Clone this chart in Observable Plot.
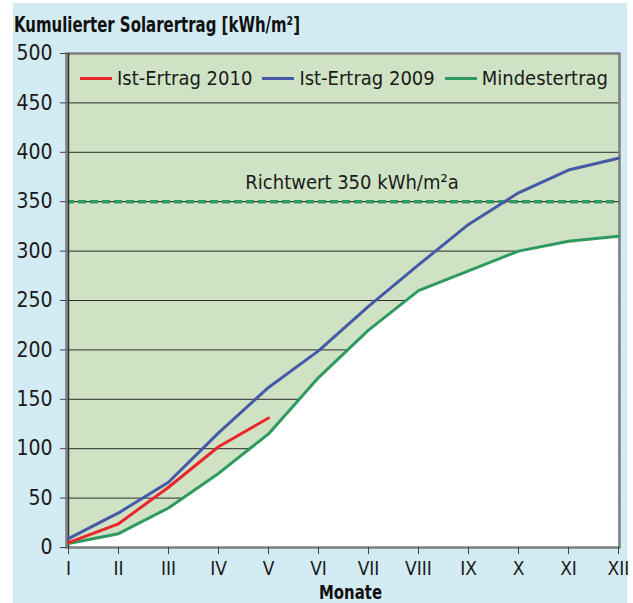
<!DOCTYPE html>
<html><head><meta charset="utf-8">
<script src="https://cdn.jsdelivr.net/npm/d3@7"></script>
<script src="https://cdn.jsdelivr.net/npm/@observablehq/plot@0.6"></script>
<style>
html,body{margin:0;padding:0;}
body{background:#fff;width:633px;height:603px;overflow:hidden;position:relative;
  font-family:"DejaVu Sans Condensed","DejaVu Sans",sans-serif;font-stretch:condensed;color:#1a1a1a;}
#bg{position:absolute;left:13px;top:3px;width:614px;height:600px;background:#d3ebf2;}
#chart{position:absolute;left:0;top:0;}
#chart svg text{font-stretch:condensed;}
.squeeze{position:absolute;white-space:nowrap;font-weight:bold;line-height:1;transform-origin:left top;color:#111;}
#title{left:14px;top:15px;font-size:21px;}
#xlabel{top:583px;font-size:19px;}
#legend{position:absolute;left:80px;top:66px;display:flex;align-items:center;font-size:20px;line-height:24px;white-space:nowrap;}
#legend .item{display:flex;align-items:center;margin-right:10px;}
#legend .sw{width:32px;height:3px;margin-right:5px;}
</style>
</head><body>
<div id="bg"></div>
<div id="chart"></div>
<div id="title" class="squeeze">Kumulierter Solarertrag [kWh/m²]</div>
<div id="xlabel" class="squeeze">Monate</div>
<div id="legend"></div>
<script>
const months = ["I","II","III","IV","V","VI","VII","VIII","IX","X","XI","XII"];
const ist2010 = [5, 24, 61, 102, 131];
const ist2009 = [9, 35, 66, 116, 162, 199, 244, 286, 327, 359, 382, 394];
const mindest = [4, 14, 40, 75, 115, 172, 220, 260, 280, 300, 310, 315];
const yTicks = [0, 50, 100, 150, 200, 250, 300, 350, 400, 450, 500];
const richtwert = 350;
const richtwertLabel = "Richtwert 350 kWh/m²a";
const seriesNames = ["Ist-Ertrag 2010", "Ist-Ertrag 2009", "Mindestertrag"];
const colors = ["#e8262b", "#4659a6", "#2f9a60"];

const toRows = (vals) => vals.map((v, i) => ({month: months[i], value: v}));
const d2010 = toRows(ist2010), d2009 = toRows(ist2009), dMin = toRows(mindest);

const plot = Plot.plot({
  width: 633, height: 603,
  marginLeft: 66, marginRight: 14, marginTop: 53, marginBottom: 56,
  style: {background: "transparent", fontFamily: '"DejaVu Sans Condensed","DejaVu Sans",sans-serif', fontSize: "20px", color: "#1a1a1a"},
  x: {type: "point", domain: months, padding: 0},
  y: {domain: [0, 500]},
  marks: [
    Plot.frame({fill: "#cfe3c4"}),
    Plot.ruleY(yTicks.slice(1, -1).filter(t => t !== richtwert), {stroke: "#2b2b2b", strokeWidth: 1}),
    Plot.areaY(dMin, {x: "month", y: "value", fill: "#ffffff"}),
    Plot.ruleY([richtwert], {stroke: "#111", strokeWidth: 1}),
    Plot.ruleY([richtwert], {stroke: colors[2], strokeWidth: 3.5, strokeDasharray: "8,4"}),
    Plot.text([richtwert], {y: d => d, text: () => richtwertLabel, frameAnchor: "middle", dx: 9, dy: -13, lineAnchor: "bottom", fontSize: 20, fill: "#1a1a1a"}),
    Plot.frame({stroke: "#7f7f7f", strokeWidth: 2.5}),
    Plot.ruleX([months[0]], {stroke: "#333", strokeWidth: 1.5}),
    Plot.line(dMin, {x: "month", y: "value", stroke: colors[2], strokeWidth: 3}),
    Plot.line(d2009, {x: "month", y: "value", stroke: colors[1], strokeWidth: 3}),
    Plot.line(d2010, {x: "month", y: "value", stroke: colors[0], strokeWidth: 3}),
    Plot.axisY({ticks: yTicks, tickSize: 6, tickPadding: 8, fontSize: 21, stroke: "#444", fill: "#1a1a1a", label: null, tickFormat: d => String(d)}),
    Plot.axisX({tickSize: 7, tickPadding: 7, fontSize: 19, stroke: "#444", fill: "#1a1a1a", label: null})
  ]
});
document.getElementById("chart").appendChild(plot);

// legend
const legend = document.getElementById("legend");
seriesNames.forEach((name, i) => {
  const it = document.createElement("div"); it.className = "item";
  const sw = document.createElement("div"); sw.className = "sw"; sw.style.background = colors[i];
  const tx = document.createElement("span"); tx.textContent = name;
  it.appendChild(sw); it.appendChild(tx); legend.appendChild(it);
});

// condensed bold labels
function squeeze(id, targetWidth, centerX) {
  const el = document.getElementById(id);
  const w = el.getBoundingClientRect().width;
  const s = Math.min(1, targetWidth / w);
  el.style.transform = `scaleX(${s})`;
  if (centerX !== undefined) el.style.left = (centerX - w * s / 2) + "px";
}
squeeze("title", 286);
squeeze("xlabel", 63, 350);
</script>
</body></html>
